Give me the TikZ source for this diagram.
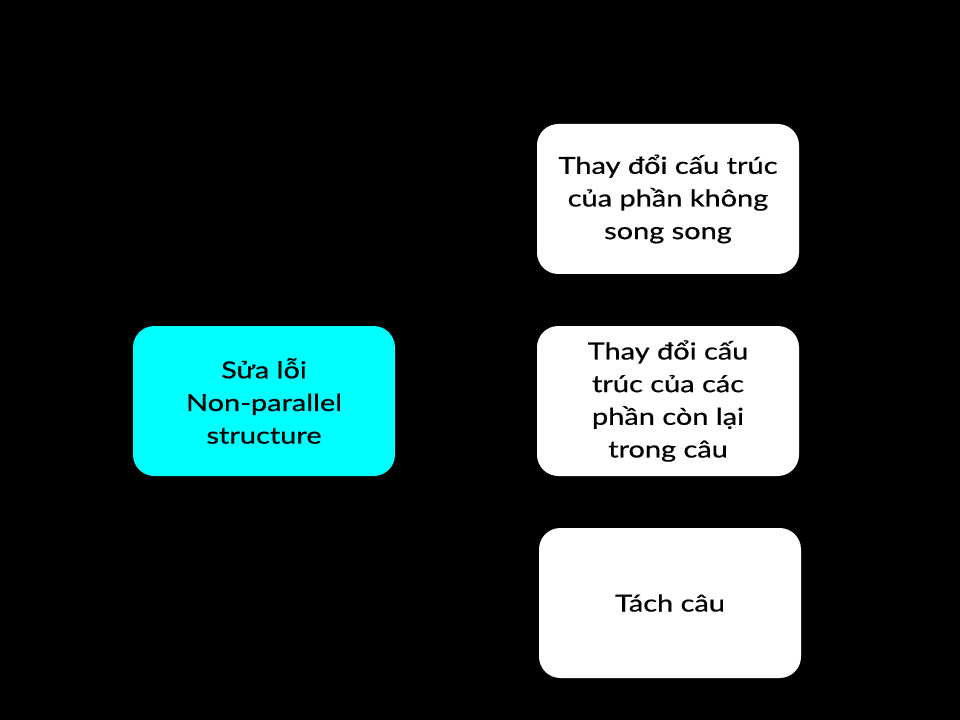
\documentclass[tikz,border=0pt]{standalone}
\usepackage{fontspec}
\setmainfont{Lato}[FakeStretch=1.24,FakeBold=0.6]
\definecolor{cyanbox}{RGB}{0,255,255}
\begin{document}
\begin{tikzpicture}[x=0.75pt,y=-0.75pt,
  box/.style={rectangle, rounded corners=16pt, minimum width=196.5pt, minimum height=112.5pt,
    align=center, font=\fontsize{17.5}{24.5}\selectfont, text=black, inner sep=0pt}]
\fill[black] (0,0) rectangle (960,720);
\useasboundingbox (0,0) rectangle (960,720);
\node[box, fill=cyanbox] (root) at (264,401) {Sửa lỗi\\Non-parallel\\structure};
\node[box, fill=white] (a) at (668,199) {Thay đổi cấu trúc\\của phần không\\song song};
\node[box, fill=white] (b) at (668,401) {Thay đổi cấu\\trúc của các\\phần còn lại\\trong câu};
\node[box, fill=white] (c) at (670,603) {Tách câu};
\end{tikzpicture}
\end{document}
